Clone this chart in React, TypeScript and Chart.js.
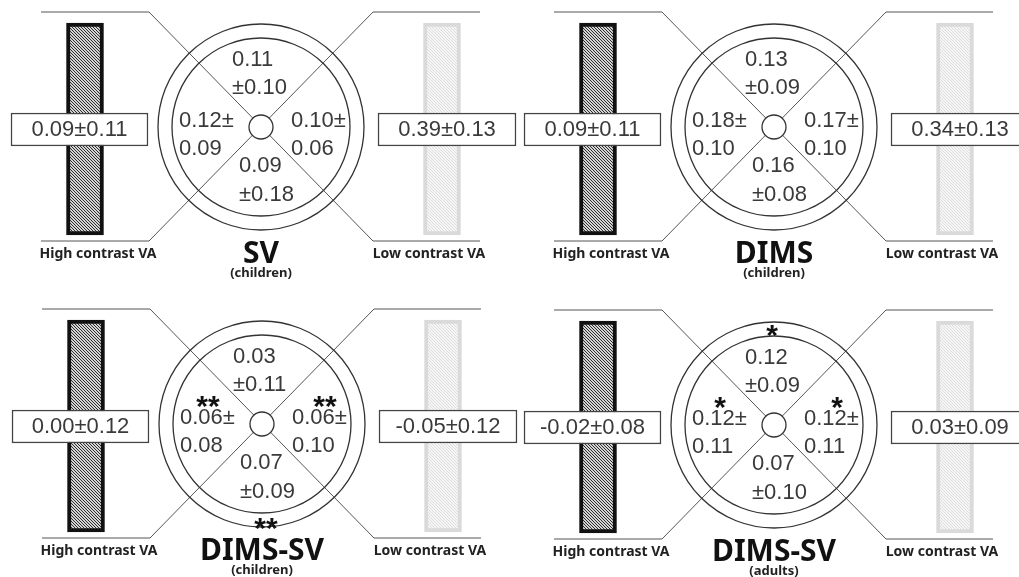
import React, { useEffect, useRef } from 'react';
import { Chart, registerables } from 'chart.js';

Chart.register(...registerables);

// ---------- data ----------
const panelTitles = ['SV', 'DIMS', 'DIMS-SV', 'DIMS-SV'];
const panelGroups = ['(children)', '(children)', '(children)', '(adults)'];
const highLabel = 'High contrast VA';
const lowLabel = 'Low contrast VA';

const highContrastMean = [0.09, 0.09, 0.0, -0.02];
const highContrastSD = [0.11, 0.11, 0.12, 0.08];
const lowContrastMean = [0.39, 0.34, -0.05, 0.03];
const lowContrastSD = [0.13, 0.13, 0.12, 0.09];

const topMean = [0.11, 0.13, 0.03, 0.12];
const topSD = [0.1, 0.09, 0.11, 0.09];
const leftMean = [0.12, 0.18, 0.06, 0.12];
const leftSD = [0.09, 0.1, 0.08, 0.11];
const rightMean = [0.1, 0.17, 0.06, 0.12];
const rightSD = [0.06, 0.1, 0.1, 0.11];
const bottomMean = [0.09, 0.16, 0.07, 0.07];
const bottomSD = [0.18, 0.08, 0.09, 0.1];

const topSig = ['', '', '', '*'];
const leftSig = ['', '', '**', '*'];
const rightSig = ['', '', '**', '*'];
const bottomSig = ['', '', '**', ''];

// ---------- layout (panel centres in scale units) ----------
const PANEL_CX = [261, 774, 262, 774];
const PANEL_CY = [127, 127, 424, 425];

const fmt = (v: number) => v.toFixed(2);

function makePattern(dark: string, light: string): CanvasPattern | string {
  const c = document.createElement('canvas');
  c.width = 3;
  c.height = 3;
  const g = c.getContext('2d');
  if (!g) return light;
  g.fillStyle = light;
  g.fillRect(0, 0, 3, 3);
  g.fillStyle = dark;
  for (let i = 0; i < 3; i++) g.fillRect(i, i, 1, 1);
  const p = g.createPattern(c, 'repeat');
  return p || light;
}

const NUM_FONT = '22px "Liberation Sans", Arial, sans-serif';
const NUM_COLOR = '#3a3a3a';

const textPlugin = {
  id: 'panelText',
  afterDatasetsDraw(chart: any) {
    const { ctx } = chart;
    const xs = chart.scales.x;
    const ys = chart.scales.y;
    const px = (v: number) => xs.getPixelForValue(v);
    const py = (v: number) => ys.getPixelForValue(v);
    const text = (s: string, x: number, y: number, font: string, color: string, align: CanvasTextAlign, base: CanvasTextBaseline) => {
      if (!s) return;
      ctx.font = font;
      ctx.fillStyle = color;
      ctx.textAlign = align;
      ctx.textBaseline = base;
      ctx.fillText(s, px(x), py(y));
    };
    ctx.save();
    for (let p = 0; p < PANEL_CX.length; p++) {
      const cx = PANEL_CX[p];
      const cy = PANEL_CY[p];
      // quadrant values
      text(fmt(topMean[p]), cx - 29, cy - 67, NUM_FONT, NUM_COLOR, 'left', 'middle');
      text('±' + fmt(topSD[p]), cx - 29, cy - 39, NUM_FONT, NUM_COLOR, 'left', 'middle');
      text(fmt(bottomMean[p]), cx - 22, cy + 39, NUM_FONT, NUM_COLOR, 'left', 'middle');
      text('±' + fmt(bottomSD[p]), cx - 22, cy + 68, NUM_FONT, NUM_COLOR, 'left', 'middle');
      text(fmt(leftMean[p]) + '±', cx - 82, cy - 6, NUM_FONT, NUM_COLOR, 'left', 'middle');
      text(fmt(leftSD[p]), cx - 82, cy + 22, NUM_FONT, NUM_COLOR, 'left', 'middle');
      text(fmt(rightMean[p]) + '±', cx + 30, cy - 6, NUM_FONT, NUM_COLOR, 'left', 'middle');
      text(fmt(rightSD[p]), cx + 30, cy + 22, NUM_FONT, NUM_COLOR, 'left', 'middle');
      // box values
      text(fmt(highContrastMean[p]) + '±' + fmt(highContrastSD[p]), cx - 181.5, cy + 2.5, NUM_FONT, NUM_COLOR, 'center', 'middle');
      text(fmt(lowContrastMean[p]) + '±' + fmt(lowContrastSD[p]), cx + 186, cy + 2.5, NUM_FONT, NUM_COLOR, 'center', 'middle');
      // significance stars
      const SF = 'bold 30px "Liberation Sans", Arial, sans-serif';
      const so = 17;
      text(topSig[p], cx - 2, cy - 97 + so, SF, '#111', 'center', 'alphabetic');
      text(leftSig[p], cx - 54, cy - 25 + so, SF, '#111', 'center', 'alphabetic');
      text(rightSig[p], cx + 63, cy - 25 + so, SF, '#111', 'center', 'alphabetic');
      text(bottomSig[p], cx + 4, cy + 97 + so, SF, '#111', 'center', 'alphabetic');
      // labels
      const LF = 'bold 14px "Noto Sans", sans-serif';
      text(highLabel, cx - 163, cy + 127, LF, '#222', 'center', 'middle');
      text(lowLabel, cx + 168, cy + 127, LF, '#222', 'center', 'middle');
      text(panelTitles[p], cx, cy + 136, 'bold 30px "Noto Sans", sans-serif', '#111', 'center', 'alphabetic');
      text(panelGroups[p], cx, cy + 146, 'bold 13px "Noto Sans", sans-serif', '#222', 'center', 'middle');
    }
    ctx.restore();
  },
};

export default function App() {
  const ref = useRef<HTMLCanvasElement | null>(null);

  useEffect(() => {
    if (!ref.current) return;
    const darkFill = makePattern('#2e2e2e', '#d4d4d4');
    const lightFill = makePattern('#dddddd', '#f6f6f6');

    const leaders: any[] = [];
    PANEL_CX.forEach((cx, i) => {
      const cy = PANEL_CY[i];
      leaders.push({
        type: 'line',
        data: [
          { x: cx - 220, y: cy - 115 },
          { x: cx - 112, y: cy - 115 },
          { x: cx + 112, y: cy + 114 },
          { x: cx + 219, y: cy + 114 },
        ],
        borderColor: '#555',
        borderWidth: 1,
        pointRadius: 0,
        tension: 0,
        fill: false,
        order: 6,
      });
      leaders.push({
        type: 'line',
        data: [
          { x: cx + 219, y: cy - 115 },
          { x: cx + 112, y: cy - 115 },
          { x: cx - 112, y: cy + 114 },
          { x: cx - 220, y: cy + 114 },
        ],
        borderColor: '#555',
        borderWidth: 1,
        pointRadius: 0,
        tension: 0,
        fill: false,
        order: 6,
      });
    });

    const centres = PANEL_CX.map((cx, i) => ({ x: cx, y: PANEL_CY[i] }));

    const chart = new Chart(ref.current, {
      type: 'scatter',
      data: {
        datasets: [
          {
            type: 'bar',
            data: PANEL_CX.map((cx, i) => ({ x: cx - 176, y: [PANEL_CY[i] - 104, PANEL_CY[i] + 108] })),
            backgroundColor: darkFill,
            borderColor: '#111',
            borderWidth: 4,
            borderSkipped: false,
            barThickness: 37,
            grouped: false,
            order: 10,
          } as any,
          {
            type: 'bar',
            data: PANEL_CX.map((cx, i) => ({ x: cx + 181, y: [PANEL_CY[i] - 104, PANEL_CY[i] + 108] })),
            backgroundColor: lightFill,
            borderColor: '#dadada',
            borderWidth: 4,
            borderSkipped: false,
            barThickness: 37,
            grouped: false,
            order: 10,
          } as any,
          {
            type: 'bar',
            data: PANEL_CX.map((cx, i) => ({ x: cx - 181.5, y: [PANEL_CY[i] - 14, PANEL_CY[i] + 19] })),
            backgroundColor: '#ffffff',
            borderColor: '#444',
            borderWidth: 1.5,
            borderSkipped: false,
            barThickness: 137,
            grouped: false,
            order: 8,
          } as any,
          {
            type: 'bar',
            data: PANEL_CX.map((cx, i) => ({ x: cx + 186, y: [PANEL_CY[i] - 14, PANEL_CY[i] + 19] })),
            backgroundColor: '#ffffff',
            borderColor: '#444',
            borderWidth: 1.5,
            borderSkipped: false,
            barThickness: 138,
            grouped: false,
            order: 8,
          } as any,
          ...leaders,
          {
            type: 'scatter',
            data: centres,
            pointRadius: 103,
            pointHoverRadius: 103,
            pointBorderWidth: 1.3,
            pointBorderColor: '#333',
            pointBackgroundColor: 'rgba(0,0,0,0)',
            order: 4,
          } as any,
          {
            type: 'scatter',
            data: centres,
            pointRadius: 89,
            pointHoverRadius: 89,
            pointBorderWidth: 1.3,
            pointBorderColor: '#333',
            pointBackgroundColor: 'rgba(0,0,0,0)',
            order: 4,
          } as any,
          {
            type: 'scatter',
            data: centres,
            pointRadius: 12,
            pointHoverRadius: 12,
            pointBorderWidth: 1.3,
            pointBorderColor: '#333',
            pointBackgroundColor: '#ffffff',
            order: 2,
          } as any,
        ],
      },
      options: {
        responsive: false,
        animation: false,
        events: [],
        layout: { padding: 0, autoPadding: false },
        plugins: { legend: { display: false }, tooltip: { enabled: false } },
        scales: {
          x: { type: 'linear', min: 0, max: 1019, display: false, offset: false },
          y: { type: 'linear', min: 0, max: 577, reverse: true, display: false },
        },
      } as any,
      plugins: [textPlugin],
    });
    return () => chart.destroy();
  }, []);

  return (
    <div style={{ position: 'absolute', left: 0, top: 0, width: 1019, height: 577, background: '#fff' }}>
      <canvas ref={ref} width={1019} height={577} style={{ display: 'block' }} />
    </div>
  );
}
